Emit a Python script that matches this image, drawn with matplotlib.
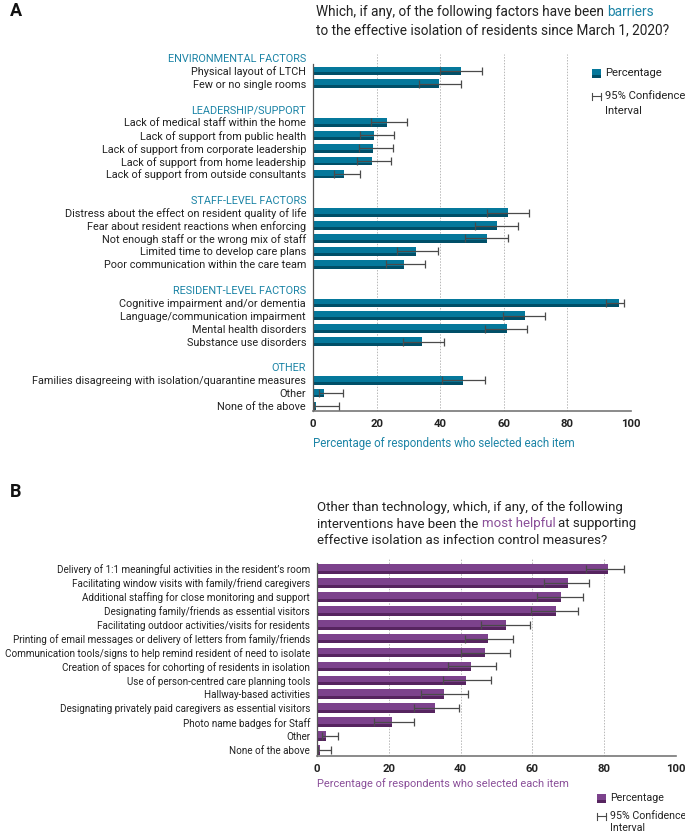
import numpy as np
import matplotlib
matplotlib.use('Agg')
import matplotlib.pyplot as plt
from matplotlib.patches import Rectangle
from matplotlib.lines import Line2D

# ============================================================
# Data - panel A (barriers)
# ============================================================

groups_a = ['ENVIRONMENTAL FACTORS', 'LEADERSHIP/SUPPORT', 'STAFF-LEVEL FACTORS',
            'RESIDENT-LEVEL FACTORS', 'OTHER']

items_a = [
    ['Physical layout of LTCH', 'Few or no single rooms'],
    ['Lack of medical staff within the home', 'Lack of support from public health',
     'Lack of support from corporate leadership', 'Lack of support from home leadership',
     'Lack of support from outside consultants'],
    ['Distress about the effect on resident quality of life',
     'Fear about resident reactions when enforcing',
     'Not enough staff or the wrong mix of staff',
     'Limited time to develop care plans',
     'Poor communication within the care team'],
    ['Cognitive impairment and/or dementia', 'Language/communication impairment',
     'Mental health disorders', 'Substance use disorders'],
    ['Families disagreeing with isolation/quarantine measures', 'Other', 'None of the above'],
]

pct_a = [[46.4, 39.7], [23.2, 19.3, 18.8, 18.4, 9.7], [61.4, 58.0, 54.7, 32.5, 28.6],
         [96.1, 66.7, 60.9, 34.3], [47.3, 3.5, 0.9]]
lo_a = [[39.8, 33.3], [18.2, 14.8, 14.5, 13.9, 6.6], [54.6, 51.1, 47.7, 26.4, 22.9],
        [92.1, 59.9, 54.0, 28.2], [40.7, 1.8, 0.2]]
hi_a = [[53.2, 46.5], [29.6, 25.4, 25.0, 24.5, 14.7], [67.9, 64.5, 61.3, 39.2, 35.2],
        [97.9, 72.9, 67.3, 41.3], [54.2, 9.3, 8.1]]

# ============================================================
# Data - panel B (most helpful interventions)
# ============================================================

items_b = [
    "Delivery of 1:1 meaningful activities in the resident\u2019s room",
    'Facilitating window visits with family/friend caregivers',
    'Additional staffing for close monitoring and support',
    'Designating family/friends as essential visitors',
    'Facilitating outdoor activities/visits for residents',
    'Printing of email messages or delivery of letters from family/friends',
    'Communication tools/signs to help remind resident of need to isolate',
    'Creation of spaces for cohorting of residents in isolation',
    'Use of person-centred care planning tools',
    'Hallway-based activities',
    'Designating privately paid caregivers as essential visitors',
    'Photo name badges for Staff',
    'Other',
    'None of the above',
]
pct_b = [81.1, 69.9, 68.1, 66.7, 52.6, 47.7, 46.8, 42.9, 41.4, 35.3, 32.9, 20.8, 2.4, 0.9]
lo_b = [74.9, 63.2, 61.2, 59.6, 45.6, 41.1, 40.0, 36.4, 35.0, 29.1, 26.9, 15.9, 1.3, 0.4]
hi_b = [85.6, 75.8, 74.0, 72.6, 59.3, 54.6, 53.7, 49.9, 48.4, 42.1, 39.6, 26.9, 5.8, 4.0]

xticks = [0, 20, 40, 60, 80, 100]

# ============================================================
# Style
# ============================================================

TEAL = '#05789b'
TEAL_DARK = '#004f68'
TEAL_TXT = '#1c84a6'
PURPLE = '#7c428c'
PURPLE_DARK = '#56245f'
PURPLE_TXT = '#8a4f99'
INK = '#222222'
ERR = '#4a4a4a'

plt.rcParams['font.family'] = ['Roboto', 'DejaVu Sans']

W, H = 685, 835
fig = plt.figure(figsize=(W / 100, H / 100), dpi=100)


def fx(x):
    return x / W


def fy(y):
    return 1 - y / H


def axes_px(left, top, right, bottom):
    return fig.add_axes([fx(left), fy(bottom), (right - left) / W, (bottom - top) / H])


def mixed_line(x, y, parts, size):
    # one line of text built from differently coloured pieces
    r = fig.canvas.get_renderer()

    def width(s):
        t = fig.text(0, 0, s, fontsize=size)
        w = t.get_window_extent(r).width
        t.remove()
        return w

    full = ''
    for s, c in parts:
        full += s
        start = x + width(full) - width(s.strip())
        fig.text(fx(start), fy(y), s.strip(), color=c, fontsize=size, va='center', ha='left')


def draw_bars(ax, slots, pct, lo, hi, main, dark, h):
    slots = np.asarray(slots, dtype=float)
    pct = np.asarray(pct)
    ax.barh(slots, pct, height=h, color=main, edgecolor='none', zorder=2)
    ax.barh(slots + h / 2 - 0.11, pct, height=0.22, color=dark, edgecolor='none', zorder=2)
    ax.errorbar(pct, slots, xerr=[pct - np.asarray(lo), np.asarray(hi) - pct], fmt='none',
                ecolor=ERR, elinewidth=0.9, capsize=2.6, capthick=0.9, zorder=3)


def style_axis(ax, spine_top):
    ax.set_xlim(0, 100)
    for v in xticks[1:]:
        ax.axvline(v, color='#b8b8b8', lw=0.7, ls=(0, (1.5, 1.5)), zorder=1)
    ax.spines['top'].set_visible(False)
    ax.spines['right'].set_visible(False)
    ax.spines['left'].set_color('#555555')
    ax.spines['left'].set_linewidth(0.9)
    ax.spines['left'].set_bounds(ax.get_ylim()[0], spine_top)
    ax.spines['bottom'].set_color('#777777')
    ax.spines['bottom'].set_linewidth(1.2)
    ax.set_xticks(xticks)
    ax.set_xticklabels([str(v) for v in xticks], fontweight='bold', fontsize=8.2, color=INK)
    ax.tick_params(axis='x', length=0, pad=6)
    ax.tick_params(axis='y', length=0, pad=5)


def legend(x, y, main, dark, size, gap1, gap2):
    fig.add_artist(Rectangle((fx(x), fy(y + 4.5)), 9 / W, 9 / H, transform=fig.transFigure,
                             facecolor=main, edgecolor='none'))
    fig.add_artist(Rectangle((fx(x), fy(y + 4.5)), 9 / W, 3 / H, transform=fig.transFigure,
                             facecolor=dark, edgecolor='none'))
    fig.text(fx(x + 13), fy(y), 'Percentage', fontsize=size, color=INK, va='center')
    y2 = y + gap1
    fig.add_artist(Line2D([fx(x), fx(x + 9)], [fy(y2), fy(y2)], transform=fig.transFigure,
                          color=ERR, lw=0.8))
    for xx in (x, x + 9):
        fig.add_artist(Line2D([fx(xx), fx(xx)], [fy(y2 - 3.5), fy(y2 + 3.5)],
                              transform=fig.transFigure, color=ERR, lw=0.8))
    fig.text(fx(x + 13), fy(y2), '95% Confidence', fontsize=size, color=INK, va='center')
    fig.text(fx(x + 13), fy(y2 + gap2), 'Interval', fontsize=size, color=INK, va='center')


# ============================================================
# Panel A
# ============================================================

slot = 0
tick_pos, tick_lab, tick_col = [], [], []
bar_slots, bar_pct, bar_lo, bar_hi = [], [], [], []
for g, (name, its) in enumerate(zip(groups_a, items_a)):
    tick_pos.append(slot)
    tick_lab.append(name)
    tick_col.append(TEAL_TXT)
    slot += 1
    for k, it in enumerate(its):
        tick_pos.append(slot)
        tick_lab.append(it)
        tick_col.append(INK)
        bar_slots.append(slot)
        bar_pct.append(pct_a[g][k])
        bar_lo.append(lo_a[g][k])
        bar_hi.append(hi_a[g][k])
        slot += 1
    slot += 1
n_slots = slot - 1

step_a = (406 - 58) / (n_slots - 1)
top_a, bot_a = 54, 411
axA = axes_px(313, top_a, 631, bot_a)
axA.set_ylim((bot_a - 58) / step_a, (top_a - 58) / step_a)
draw_bars(axA, bar_slots, bar_pct, bar_lo, bar_hi, TEAL, TEAL_DARK, 0.68)
style_axis(axA, 0.5)
axA.set_yticks(tick_pos)
axA.set_yticklabels(tick_lab, fontsize=7.8)
for t, c in zip(axA.get_yticklabels(), tick_col):
    t.set_color(c)

fig.text(fx(10), fy(11), 'A', fontsize=13, fontweight='bold', color='#111111', va='center')
mixed_line(316, 12, [('Which, if any, of the following factors have been', INK),
                     (' barriers', TEAL_TXT)], 9.8)
mixed_line(316, 30, [('to the effective isolation of residents since March 1, 2020?', INK)], 9.8)
fig.text(fx(313), fy(444), 'Percentage of respondents who selected each item',
         fontsize=8.3, color=TEAL_TXT, va='center')
legend(592, 73, TEAL, TEAL_DARK, 8.1, 23, 15)

# ============================================================
# Panel B
# ============================================================

slots_b = np.arange(len(items_b))
step_b = (750 - 569) / (len(items_b) - 1)
top_b, bot_b = 558, 756
axB = axes_px(317, top_b, 676, bot_b)
axB.set_ylim((bot_b - 569) / step_b, (top_b - 569) / step_b)
draw_bars(axB, slots_b, pct_b, lo_b, hi_b, PURPLE, PURPLE_DARK, 0.70)
style_axis(axB, -0.45)
axB.set_yticks(slots_b)
axB.set_yticklabels(items_b, fontsize=7.1, color=INK)

fig.text(fx(10), fy(492), 'B', fontsize=13, fontweight='bold', color='#111111', va='center')
mixed_line(317, 507, [('Other than technology, which, if any, of the following', INK)], 9.5)
mixed_line(317, 524, [('interventions have been the', INK), (' most helpful', PURPLE_TXT),
                      (' at supporting', INK)], 9.5)
mixed_line(317, 541, [('effective isolation as infection control measures?', INK)], 9.5)
fig.text(fx(317), fy(784), 'Percentage of respondents who selected each item',
         fontsize=7.9, color=PURPLE_TXT, va='center')
legend(597, 798, PURPLE, PURPLE_DARK, 7.7, 18, 12)

fig.savefig('out.png', dpi=100)
